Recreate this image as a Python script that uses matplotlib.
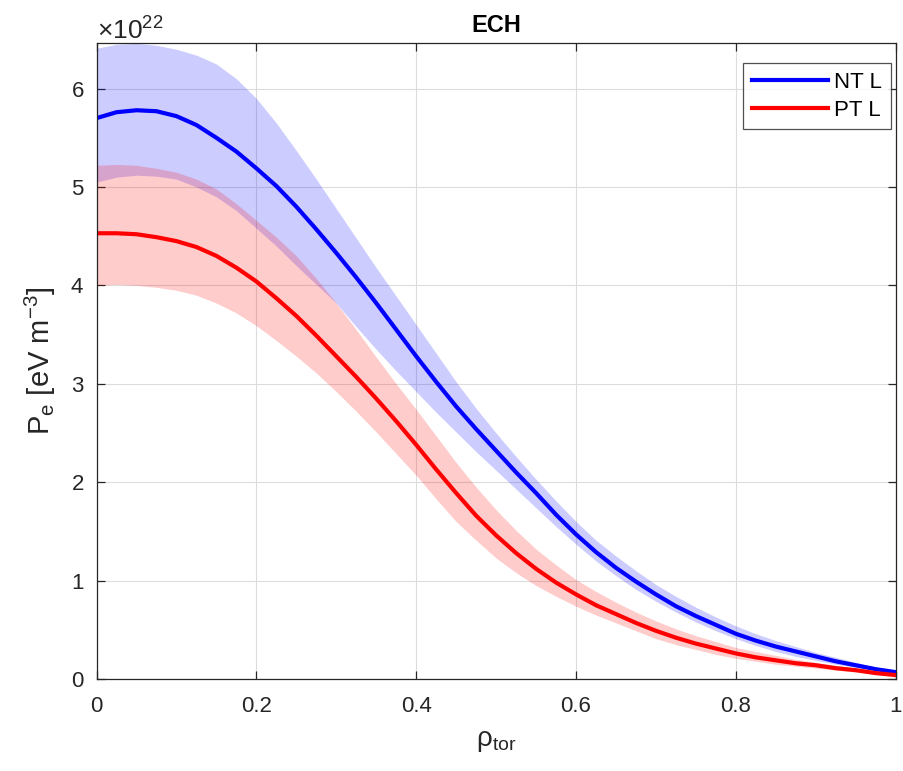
import matplotlib
matplotlib.use("Agg")
import matplotlib.pyplot as plt
from matplotlib.ticker import ScalarFormatter
import numpy as np

plt.rcParams["font.family"] = ["Liberation Sans", "DejaVu Sans"]
plt.rcParams["mathtext.fontset"] = "custom"
plt.rcParams["mathtext.rm"] = "Liberation Sans"
plt.rcParams["mathtext.it"] = "Liberation Sans:italic"
plt.rcParams["mathtext.bf"] = "Liberation Sans:bold"

# profiles in units of 1e22 eV m^-3
SCALE = 1e22
rho = [0.000, 0.025, 0.050, 0.075, 0.100, 0.125, 0.150, 0.175, 0.200, 0.225,
       0.250, 0.275, 0.300, 0.325, 0.350, 0.375, 0.400, 0.425, 0.450, 0.475,
       0.500, 0.525, 0.550, 0.575, 0.600, 0.625, 0.650, 0.675, 0.700, 0.725,
       0.750, 0.775, 0.800, 0.825, 0.850, 0.875, 0.900, 0.925, 0.950, 0.975,
       1.000]

nt_mean = [5.70, 5.76, 5.78, 5.77, 5.72, 5.63, 5.50, 5.36, 5.19, 5.01,
           4.80, 4.57, 4.33, 4.08, 3.82, 3.55, 3.28, 3.02, 2.77, 2.54,
           2.32, 2.10, 1.89, 1.67, 1.47, 1.29, 1.13, 0.99, 0.86, 0.74,
           0.64, 0.55, 0.46, 0.39, 0.33, 0.28, 0.23, 0.18, 0.14, 0.10,
           0.07]
nt_upper = [6.41, 6.45, 6.46, 6.44, 6.40, 6.34, 6.25, 6.10, 5.90, 5.65,
            5.37, 5.08, 4.78, 4.48, 4.18, 3.89, 3.60, 3.31, 3.02, 2.75,
            2.50, 2.26, 2.03, 1.81, 1.60, 1.41, 1.25, 1.10, 0.96, 0.84,
            0.73, 0.63, 0.54, 0.46, 0.39, 0.33, 0.27, 0.22, 0.17, 0.12,
            0.08]
nt_lower = [5.05, 5.10, 5.12, 5.11, 5.08, 5.00, 4.90, 4.76, 4.58, 4.40,
            4.20, 4.01, 3.82, 3.58, 3.35, 3.13, 2.92, 2.71, 2.51, 2.31,
            2.12, 1.93, 1.74, 1.55, 1.37, 1.20, 1.05, 0.91, 0.79, 0.68,
            0.58, 0.49, 0.41, 0.34, 0.28, 0.23, 0.19, 0.15, 0.12, 0.09,
            0.06]

pt_mean = [4.53, 4.53, 4.52, 4.49, 4.45, 4.39, 4.30, 4.18, 4.04, 3.87,
           3.69, 3.49, 3.28, 3.07, 2.85, 2.62, 2.38, 2.13, 1.89, 1.66,
           1.46, 1.28, 1.12, 0.98, 0.86, 0.75, 0.66, 0.57, 0.49, 0.42,
           0.36, 0.31, 0.26, 0.22, 0.19, 0.16, 0.14, 0.11, 0.09, 0.06,
           0.04]
pt_upper = [5.22, 5.23, 5.22, 5.19, 5.15, 5.08, 4.98, 4.83, 4.66, 4.49,
            4.30, 4.07, 3.82, 3.55, 3.27, 3.00, 2.74, 2.47, 2.20, 1.95,
            1.72, 1.51, 1.32, 1.16, 1.01, 0.89, 0.78, 0.68, 0.59, 0.51,
            0.44, 0.38, 0.32, 0.28, 0.24, 0.20, 0.17, 0.14, 0.11, 0.08,
            0.05]
pt_lower = [4.00, 4.01, 4.00, 3.98, 3.95, 3.90, 3.82, 3.72, 3.59, 3.44,
            3.28, 3.11, 2.92, 2.72, 2.51, 2.29, 2.07, 1.83, 1.60, 1.41,
            1.23, 1.08, 0.95, 0.84, 0.74, 0.65, 0.57, 0.49, 0.41, 0.35,
            0.30, 0.25, 0.21, 0.18, 0.15, 0.13, 0.11, 0.09, 0.07, 0.05,
            0.03]

x = np.array(rho)
s = lambda a: np.array(a) * SCALE

fig = plt.figure(figsize=(9.04, 7.71), dpi=100)
ax = fig.add_axes([0.1068, 0.1193, 0.8840, 0.8245])

ax.fill_between(x, s(nt_lower), s(nt_upper), color="blue", alpha=0.2, linewidth=0)
ax.fill_between(x, s(pt_lower), s(pt_upper), color="red", alpha=0.2, linewidth=0)
ax.plot(x, s(nt_mean), color="blue", lw=3, label="NT L", solid_joinstyle="round")
ax.plot(x, s(pt_mean), color="red", lw=3, label="PT L", solid_joinstyle="round")

ax.set_xlim(0, 1)
ax.set_ylim(0, max(nt_upper) * SCALE)
ax.set_xticks([0, 0.2, 0.4, 0.6, 0.8, 1.0])
ax.set_xticklabels(["0", "0.2", "0.4", "0.6", "0.8", "1"])
ax.set_yticks(np.arange(0, 7) * SCALE)

fmt = ScalarFormatter(useMathText=True)
fmt.set_powerlimits((0, 0))
ax.yaxis.set_major_formatter(fmt)
ax.yaxis.get_offset_text().set_fontsize(19)
ax.yaxis.get_offset_text().set_color("#262626")

ax.grid(True, color="#dcdcdc", linewidth=0.8)
ax.set_axisbelow(True)
for sp in ax.spines.values():
    sp.set_color("#262626")
    sp.set_linewidth(0.9)
ax.tick_params(direction="in", length=6, width=0.9, top=True, right=True,
               labelsize=16, colors="#262626")
ax.tick_params(axis="x", pad=12)
ax.tick_params(axis="y", pad=9)

ax.set_title("ECH", fontsize=17, fontweight="bold", pad=8)
ax.set_xlabel("ρ$_{\\mathrm{tor}}$", fontsize=20, color="#262626", labelpad=8)
ax.set_ylabel("P$_{\\mathrm{e}}$ [eV m$^{-3}$]", fontsize=21, color="#262626", labelpad=9)

leg = ax.legend(loc="upper right", bbox_to_anchor=(0.9856, 0.9183),
                bbox_transform=fig.transFigure, borderaxespad=0,
                fontsize=16, frameon=True, fancybox=False,
                handlelength=3.4, handletextpad=0.3, borderpad=0.4,
                labelspacing=0.3)
leg.get_frame().set_edgecolor("#262626")
leg.get_frame().set_linewidth(0.9)

fig.savefig("out.png", dpi=100)
